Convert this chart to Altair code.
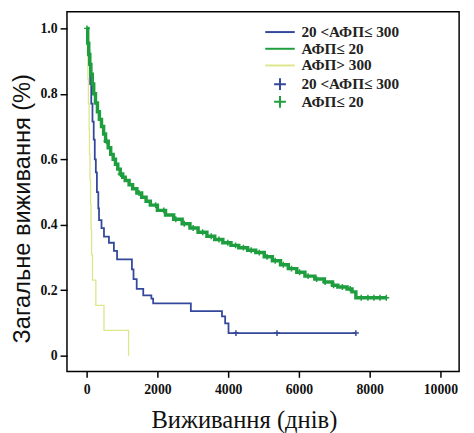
import altair as alt
import pandas as pd

LBL_MID = "20 <АФП≤ 300"
LBL_LOW = "АФП≤ 20"
LBL_HIGH = "АФП> 300"

BLUE = "#33479b"
GREEN = "#1f9e3f"
YELLOW = "#dde68a"

# АФП ≤ 20 (green)
low_t = [0, 30, 60, 90, 120, 160, 200, 250, 305, 360, 420, 480, 535, 610, 680,
         750, 815, 880, 950, 1020, 1090, 1200, 1300, 1420, 1555, 1680, 1800,
         2000, 2230, 2460, 2700, 2920, 3150, 3400, 3620, 3850, 4080, 4300, 4550,
         4780, 5020, 5250, 5480, 5700, 5940, 6170, 6450, 6720, 6950, 7100, 7360,
         7500, 7610, 8470]
low_s = [1.0, 0.955, 0.92, 0.89, 0.86, 0.83, 0.80, 0.772, 0.745, 0.722, 0.70,
         0.677, 0.655, 0.635, 0.615, 0.60, 0.585, 0.57, 0.555, 0.545, 0.535,
         0.522, 0.51, 0.497, 0.484, 0.472, 0.46, 0.444, 0.43, 0.417, 0.403, 0.39,
         0.377, 0.365, 0.355, 0.345, 0.337, 0.33, 0.322, 0.315, 0.302, 0.29,
         0.278, 0.266, 0.255, 0.243, 0.234, 0.225, 0.215, 0.21, 0.204, 0.195,
         0.177, 0.177]
low_cens = [10, 560, 960, 1480, 1950, 2180, 2520, 2760, 3010, 3280, 3520, 3740,
            3990, 4210, 4430, 4650, 4880, 5100, 5330, 5560, 5790, 6020, 6260,
            6500, 6740, 6980, 7230, 7450, 7760, 7950, 8120, 8290, 8470]

# 20 < АФП ≤ 300 (blue)
mid_t = [0, 40, 75, 100, 130, 165, 200, 230, 260, 290, 330, 350, 420, 490, 630,
         770, 860, 1280, 1325, 1415, 1600, 1830, 1880, 2945, 3825, 3915, 4010, 7610]
mid_s = [1.0, 0.93, 0.89, 0.83, 0.77, 0.715, 0.66, 0.60, 0.56, 0.50, 0.45, 0.414,
         0.39, 0.364, 0.345, 0.32, 0.294, 0.264, 0.234, 0.204, 0.184, 0.174, 0.16,
         0.136, 0.12, 0.099, 0.069, 0.069]
mid_cens = [4220, 5380, 7610]

# АФП > 300 (yellow)
high_t = [0, 20, 35, 50, 70, 80, 95, 110, 125, 140, 165, 260, 490, 1185]
high_s = [1.0, 0.923, 0.846, 0.769, 0.692, 0.615, 0.538, 0.462, 0.385, 0.308,
          0.231, 0.154, 0.077, 0.0]

x_ticks = [0, 2000, 4000, 6000, 8000, 10000]
y_ticks = [0, 0.2, 0.4, 0.6, 0.8, 1.0]

rows = []
for g, ts, ss in [(LBL_MID, mid_t, mid_s), (LBL_LOW, low_t, low_s), (LBL_HIGH, high_t, high_s)]:
    for t, s in zip(ts, ss):
        rows.append({"group": g, "t": t, "s": s})
curves = pd.DataFrame(rows)


def step_value(ts, ss, t):
    v = ss[0]
    for tt, s in zip(ts, ss):
        if tt <= t:
            v = s
    return v


crow = []
for g, cts, ts, ss in [(LBL_MID, mid_cens, mid_t, mid_s), (LBL_LOW, low_cens, low_t, low_s)]:
    for t in cts:
        crow.append({"group": g, "t": t, "s": step_value(ts, ss, t)})
cens = pd.DataFrame(crow)

PLUS = "M-1,0L1,0M0,-1L0,1"
LONG_DASH = "M-2.5,0L2.5,0"

xscale = alt.Scale(domain=[-556, 10528], nice=False, zero=False)
yscale = alt.Scale(domain=[-0.048, 1.051], nice=False, zero=False)

xaxis = alt.Axis(values=x_ticks, title="Виживання (днів)", format="d",
                 titleFont="Liberation Serif", titleFontSize=25, titleFontWeight="normal",
                 titleX=180, titleY=57, titleAnchor="middle", titleBaseline="alphabetic",
                 labelFont="Liberation Serif", labelFontSize=14, labelFontWeight="bold",
                 labelPadding=5, tickSize=6)
yaxis = alt.Axis(values=y_ticks, title="Загальне виживання (%)",
                 labelExpr="datum.value == 0 ? '0' : format(datum.value, '.1f')",
                 titleFont="Liberation Sans", titleFontSize=24, titleFontWeight="normal",
                 titleX=-38, titleY=200, titleAnchor="middle", titleBaseline="alphabetic",
                 labelFont="Liberation Serif", labelFontSize=14, labelFontWeight="bold",
                 labelPadding=3, tickSize=7)

line_legend = alt.Legend(
    title=None, orient="none", legendX=209, legendY=13,
    symbolType=LONG_DASH, symbolSize=144, symbolStrokeWidth=2,
    labelFont="Liberation Serif", labelFontSize=15.5, labelFontWeight="bold",
    labelColor="#222", labelOffset=14, rowPadding=-4, padding=0,
)

stroke_enc = alt.Stroke(
    "group:N",
    scale=alt.Scale(domain=[LBL_MID, LBL_LOW, LBL_HIGH], range=[BLUE, GREEN, YELLOW]),
    legend=line_legend,
)


def curve_layer(label, width, with_axes):
    if with_axes:
        x = alt.X("t:Q", scale=xscale, axis=xaxis)
        y = alt.Y("s:Q", scale=yscale, axis=yaxis)
    else:
        x = alt.X("t:Q", scale=xscale)
        y = alt.Y("s:Q", scale=yscale)
    return alt.Chart(curves).transform_filter(
        alt.datum.group == label
    ).mark_line(interpolate="step-after", strokeWidth=width).encode(
        x=x, y=y, stroke=stroke_enc, order="t:Q"
    )


layer_mid = curve_layer(LBL_MID, 1.8, True)
layer_low = curve_layer(LBL_LOW, 3.5, False)
layer_high = curve_layer(LBL_HIGH, 1.3, False)

points = alt.Chart(cens).mark_point(shape=PLUS, filled=False, size=36, strokeWidth=1.5, opacity=1).encode(
    x=alt.X("t:Q", scale=xscale),
    y=alt.Y("s:Q", scale=yscale),
    color=alt.Color(
        "group:N",
        scale=alt.Scale(domain=[LBL_MID, LBL_LOW], range=[BLUE, GREEN]),
        legend=alt.Legend(
            title=None, orient="none", legendX=209, legendY=66,
            symbolType=PLUS, symbolSize=144, symbolStrokeWidth=2,
            labelFont="Liberation Serif", labelFontSize=15.5, labelFontWeight="bold",
            labelColor="#222", labelOffset=14, rowPadding=-4, padding=0,
        ),
    ),
)

chart = alt.layer(layer_high, layer_mid, layer_low, points).properties(
    width=399, height=366,
    autosize=alt.AutoSizeParams(type="none"),
    padding={"left": 60, "top": 0, "right": 7, "bottom": 62},
    background="white",
).configure_view(
    stroke="black", strokeWidth=1.5
).configure_axis(
    domain=False, grid=False, tickColor="black", tickWidth=1.5,
    labelColor="#111", titleColor="#111",
)

chart.save("out.html", embed_options={"renderer": "svg", "actions": False})
